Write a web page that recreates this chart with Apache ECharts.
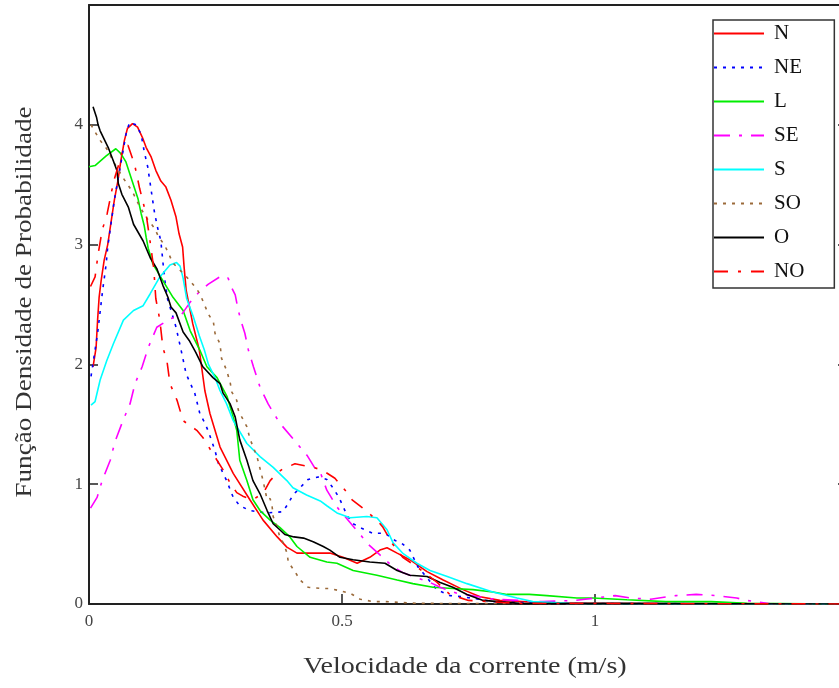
<!DOCTYPE html>
<html>
<head>
<meta charset="utf-8">
<script src="https://cdn.jsdelivr.net/npm/echarts@6/dist/echarts.min.js"></script>
<style>
html,body{margin:0;padding:0;background:#fff;}
#chart{width:839px;height:688px;}
</style>
</head>
<body>
<div id="chart"></div>
<script>
// Series names (legend)
const seriesNames = ['N','NE','L','SE','S','SO','O','NO'];

// N (red solid)
const nX = [0.008,0.014,0.017,0.02,0.024,0.03,0.037,0.043,0.05,0.057,0.063,0.07,0.076,0.086,0.096,0.106,0.113,0.123,0.132,0.142,0.152,0.162,0.172,0.178,0.185,0.188,0.192,0.205,0.218,0.229,0.239,0.259,0.285,0.318,0.344,0.372,0.391,0.411,0.451,0.476,0.502,0.53,0.555,0.575,0.589,0.609,0.634,0.668,0.7,0.739,0.773,0.812,0.9,1.5];
const nY = [1.98,2.14,2.37,2.56,2.7,2.87,3.0,3.17,3.37,3.53,3.7,3.87,3.97,4.01,3.98,3.89,3.81,3.73,3.62,3.53,3.48,3.37,3.23,3.09,2.98,2.81,2.62,2.34,2.12,1.78,1.59,1.31,1.09,0.87,0.70,0.56,0.475,0.425,0.425,0.425,0.39,0.34,0.39,0.45,0.47,0.425,0.37,0.27,0.2,0.12,0.06,0.03,0.01,0];

// NE (blue dotted)
const neX = [0.004,0.017,0.027,0.034,0.037,0.05,0.066,0.073,0.08,0.093,0.103,0.109,0.116,0.123,0.129,0.135,0.142,0.149,0.155,0.172,0.182,0.192,0.209,0.219,0.229,0.236,0.249,0.256,0.272,0.285,0.298,0.318,0.35,0.383,0.394,0.403,0.417,0.433,0.453,0.47,0.482,0.494,0.51,0.522,0.54,0.561,0.585,0.605,0.62,0.634,0.65,0.664,0.687,0.713,0.739,0.8,0.9,1.5];
const neY = [1.9,2.26,2.62,2.84,2.98,3.37,3.75,3.92,4.02,4.0,3.92,3.78,3.65,3.45,3.28,3.15,3.03,2.73,2.55,2.31,2.12,1.92,1.76,1.59,1.51,1.44,1.28,1.17,1.03,0.89,0.82,0.78,0.76,0.77,0.84,0.91,0.97,1.04,1.06,1.04,0.97,0.89,0.74,0.67,0.63,0.59,0.59,0.53,0.5,0.45,0.31,0.24,0.12,0.07,0.06,0.02,0.005,0];

// L (green solid)
const lX = [0.0,0.012,0.034,0.053,0.063,0.073,0.083,0.097,0.103,0.109,0.113,0.117,0.126,0.146,0.166,0.186,0.2,0.219,0.233,0.253,0.273,0.285,0.292,0.298,0.312,0.324,0.338,0.358,0.377,0.397,0.411,0.437,0.47,0.49,0.522,0.569,0.609,0.64,0.68,0.719,0.759,0.798,0.826,0.87,0.905,0.964,0.996,1.063,1.14,1.23,1.3,1.5];
const lY = [3.65,3.66,3.74,3.8,3.76,3.69,3.56,3.38,3.26,3.16,3.06,2.97,2.84,2.7,2.56,2.45,2.28,2.12,1.98,1.89,1.73,1.56,1.45,1.2,1.03,0.87,0.78,0.7,0.64,0.56,0.48,0.39,0.35,0.34,0.28,0.24,0.2,0.17,0.14,0.13,0.12,0.1,0.08,0.08,0.07,0.05,0.05,0.035,0.02,0.02,0.005,0];

// SE (magenta dash-dot)
const seX = [0.003,0.016,0.026,0.042,0.051,0.067,0.081,0.091,0.105,0.117,0.134,0.16,0.182,0.2,0.219,0.236,0.262,0.275,0.282,0.289,0.295,0.302,0.308,0.315,0.325,0.338,0.354,0.377,0.403,0.431,0.447,0.457,0.47,0.49,0.52,0.54,0.549,0.575,0.601,0.621,0.674,0.694,0.727,0.8,0.897,0.96,1.02,1.04,1.07,1.11,1.16,1.2,1.24,1.28,1.3,1.35,1.5];
const seY = [0.8,0.89,1.03,1.2,1.35,1.53,1.67,1.84,1.98,2.14,2.31,2.38,2.41,2.52,2.61,2.67,2.74,2.72,2.64,2.58,2.45,2.34,2.26,2.12,1.98,1.81,1.67,1.51,1.38,1.24,1.13,1.1,0.95,0.81,0.66,0.56,0.51,0.41,0.31,0.26,0.18,0.14,0.09,0.04,0.02,0.03,0.06,0.07,0.05,0.04,0.07,0.08,0.07,0.05,0.03,0.0,0];

// S (cyan solid)
const sX = [0.004,0.012,0.022,0.035,0.048,0.068,0.088,0.107,0.121,0.14,0.16,0.173,0.18,0.186,0.193,0.206,0.218,0.228,0.236,0.249,0.259,0.272,0.285,0.312,0.338,0.364,0.391,0.403,0.43,0.457,0.47,0.49,0.516,0.549,0.569,0.589,0.601,0.621,0.648,0.674,0.708,0.747,0.798,0.846,0.877,0.95,1.5];
const sY = [1.66,1.69,1.87,2.03,2.17,2.37,2.45,2.49,2.59,2.73,2.83,2.85,2.82,2.72,2.55,2.4,2.24,2.12,2.0,1.89,1.78,1.67,1.53,1.34,1.23,1.14,1.03,0.97,0.91,0.86,0.82,0.76,0.72,0.73,0.72,0.62,0.51,0.42,0.34,0.28,0.23,0.17,0.1,0.05,0.02,0.005,0];

// SO (brown dotted)
const soX = [0.004,0.012,0.022,0.035,0.05,0.067,0.086,0.101,0.116,0.129,0.137,0.15,0.159,0.165,0.193,0.211,0.219,0.229,0.236,0.246,0.249,0.259,0.262,0.272,0.279,0.282,0.292,0.295,0.302,0.312,0.318,0.332,0.338,0.344,0.348,0.352,0.358,0.362,0.364,0.372,0.377,0.384,0.391,0.394,0.407,0.417,0.433,0.457,0.476,0.516,0.536,0.561,0.585,0.65,1.5];
const soY = [4.0,3.94,3.87,3.8,3.68,3.56,3.44,3.31,3.21,3.14,3.07,2.99,2.91,2.85,2.73,2.64,2.59,2.49,2.42,2.35,2.26,2.17,2.05,1.95,1.85,1.77,1.7,1.62,1.56,1.48,1.38,1.23,1.13,1.03,0.95,0.87,0.88,0.81,0.73,0.64,0.56,0.51,0.43,0.35,0.27,0.2,0.14,0.13,0.13,0.09,0.04,0.02,0.02,0.005,0];

// O (black solid)
const oX = [0.008,0.015,0.018,0.022,0.038,0.048,0.055,0.058,0.065,0.078,0.088,0.107,0.121,0.134,0.146,0.156,0.162,0.172,0.186,0.198,0.211,0.225,0.245,0.259,0.265,0.279,0.289,0.298,0.312,0.324,0.338,0.352,0.364,0.377,0.387,0.405,0.424,0.443,0.463,0.476,0.496,0.522,0.555,0.585,0.609,0.634,0.668,0.694,0.719,0.747,0.779,0.85,1.5];
const oY = [4.15,4.06,4.0,3.95,3.81,3.7,3.62,3.51,3.42,3.31,3.17,3.03,2.89,2.8,2.66,2.56,2.48,2.43,2.27,2.2,2.1,1.98,1.89,1.84,1.76,1.67,1.56,1.37,1.2,1.03,0.92,0.78,0.67,0.62,0.58,0.56,0.55,0.52,0.48,0.45,0.39,0.37,0.35,0.34,0.28,0.24,0.23,0.18,0.14,0.08,0.03,0.005,0];

// NO (red dash-dot)
const noX = [0.003,0.012,0.018,0.026,0.036,0.045,0.051,0.061,0.067,0.077,0.09,0.1,0.113,0.12,0.128,0.132,0.14,0.146,0.154,0.16,0.174,0.186,0.213,0.225,0.253,0.265,0.279,0.292,0.304,0.324,0.345,0.358,0.374,0.384,0.407,0.443,0.46,0.486,0.51,0.52,0.541,0.569,0.581,0.6,0.62,0.648,0.688,0.713,0.75,0.85,1.5];
const noY = [2.65,2.73,2.92,3.12,3.26,3.45,3.56,3.7,3.8,3.83,3.67,3.47,3.25,3.05,2.8,2.55,2.37,2.14,2.03,1.84,1.7,1.53,1.45,1.39,1.2,1.12,1.01,0.93,0.9,0.87,0.93,1.03,1.1,1.13,1.17,1.14,1.12,1.05,0.93,0.87,0.8,0.7,0.64,0.5,0.39,0.31,0.18,0.08,0.03,0.005,0];

// Axis tick labels
const xTickLabels = [0, 0.5, 1];
const yTickLabels = [0, 1, 2, 3, 4];
const xTitle = 'Velocidade da corrente (m/s)';
const yTitle = 'Função Densidade de Probabilidade';

const xs = [nX, neX, lX, seX, sX, soX, oX, noX];
const ys = [nY, neY, lY, seY, sY, soY, oY, noY];
const colors = ['#ff0000','#0000ff','#00ee00','#ff00ff','#00ffff','#9b6a3a','#000000','#ff0000'];
const dashes = ['solid',[3,6],'solid',[16,9,3,9],'solid',[3,6],'solid',[14,10,3,10]];

const SERIF = '"Liberation Serif","Times New Roman",serif';

const series = seriesNames.map((name, k) => ({
  name: name,
  type: 'line',
  symbol: 'none',
  showSymbol: false,
  data: xs[k].map((x, i) => [x, ys[k][i]]),
  itemStyle: { color: colors[k] },
  lineStyle: { color: colors[k], width: 1.6, type: dashes[k] },
  clip: true,
  animation: false
}));

const chart = echarts.init(document.getElementById('chart'), null, {renderer: 'canvas'});
chart.setOption({
  animation: false,
  backgroundColor: '#ffffff',
  grid: { left: 89, top: 5, right: -9, bottom: 84, containLabel: false, outerBoundsMode: 'none' },
  legend: {
    data: seriesNames,
    orient: 'vertical',
    left: 713, top: 20,
    padding: [3, 30, 6, 0],
    itemGap: 13,
    itemWidth: 50,
    itemHeight: 14,
    backgroundColor: '#ffffff',
    borderColor: '#333333',
    borderWidth: 1.5,
    borderRadius: 0,
    itemStyle: { color: 'transparent', borderColor: 'transparent', borderWidth: 0, opacity: 0 },
    textStyle: { fontFamily: SERIF, fontSize: 21, lineHeight: 21, color: '#111', padding: [0,0,0,5] }
  },
  graphic: [
    { type: 'text', x: 465, y: 667, scaleX: 1.22, silent: true,
      style: { text: xTitle, fontFamily: SERIF, fontSize: 23, fill: '#333',
               align: 'center', verticalAlign: 'middle', textAlign: 'center', textVerticalAlign: 'middle' } },
    { type: 'text', x: 25, y: 302, rotation: Math.PI / 2, scaleX: 1.18, silent: true,
      style: { text: yTitle, fontFamily: SERIF, fontSize: 23, fill: '#333',
               align: 'center', verticalAlign: 'middle', textAlign: 'center', textVerticalAlign: 'middle' } }
  ],
  xAxis: [{
    type: 'value', min: 0, max: 1.5, interval: 0.5,
    position: 'bottom',
    axisLine: { show: true, onZero: false, lineStyle: { color: '#222', width: 2 } },
    axisTick: { show: true, inside: true, length: 10, lineStyle: { color: '#222', width: 1.5 } },
    axisLabel: { fontFamily: SERIF, fontSize: 17, color: '#444', margin: 9,
      formatter: v => (xTickLabels.indexOf(v) >= 0 ? String(v) : '') },
    splitLine: { show: false }
  }, {
    type: 'value', min: 0, max: 1.5, interval: 0.5,
    position: 'top',
    axisLine: { show: true, onZero: false, lineStyle: { color: '#222', width: 2 } },
    axisTick: { show: false },
    axisLabel: { show: false },
    splitLine: { show: false }
  }],
  yAxis: [{
    type: 'value', min: 0, max: 5, interval: 1,
    position: 'left',
    axisLine: { show: true, onZero: false, lineStyle: { color: '#222', width: 2 } },
    axisTick: { show: true, inside: true, length: 9, lineStyle: { color: '#222', width: 1.5 } },
    axisLabel: { fontFamily: SERIF, fontSize: 17, color: '#444', margin: 6,
      formatter: v => (yTickLabels.indexOf(v) >= 0 ? String(v) : '') },
    splitLine: { show: false }
  }, {
    type: 'value', min: 0, max: 5, interval: 1,
    position: 'right',
    axisLine: { show: true, onZero: false, lineStyle: { color: '#222', width: 2 } },
    axisTick: { show: true, inside: true, length: 10, lineStyle: { color: '#222', width: 1.5 } },
    axisLabel: { show: false },
    splitLine: { show: false }
  }],
  series: series
});
</script>
</body>
</html>
